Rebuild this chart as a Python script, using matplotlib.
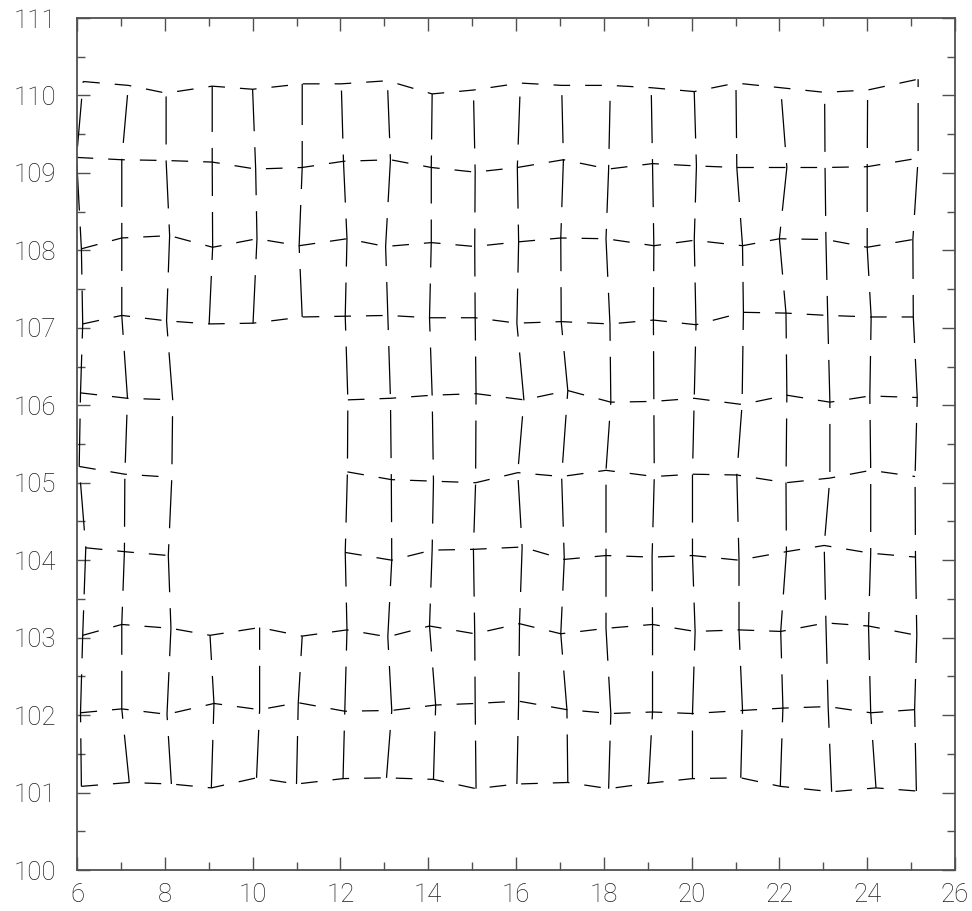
import numpy as np
import matplotlib
matplotlib.use("Agg")
import matplotlib.pyplot as plt
from matplotlib.ticker import MultipleLocator

# Grid rows (nominal y = 101..110), columns nominal x = 6..25; None = missing node
row_101_x = [6.10, 7.19, 8.15, 9.06, 10.09, 11.00, 12.06, 13.05, 14.12, 15.09, 16.02, 17.18, 18.11, 19.02, 20.02, 21.12, 22.02, 23.19, 24.20, 25.12]
row_101_y = [101.08, 101.13, 101.11, 101.06, 101.19, 101.11, 101.18, 101.19, 101.17, 101.05, 101.11, 101.13, 101.05, 101.12, 101.18, 101.19, 101.08, 101.01, 101.06, 101.02]

row_102_x = [6.08, 7.02, 8.05, 9.12, 10.16, 11.04, 12.10, 13.17, 14.17, 15.07, 16.06, 17.16, 18.16, 19.11, 20.02, 21.16, 22.08, 23.11, 24.08, 25.08]
row_102_y = [102.03, 102.08, 102.01, 102.15, 102.07, 102.16, 102.05, 102.06, 102.13, 102.15, 102.18, 102.07, 102.02, 102.04, 102.02, 102.06, 102.09, 102.11, 102.03, 102.07]

row_103_x = [6.13, 7.02, 8.14, 9.03, 10.16, 11.13, 12.15, 13.08, 14.03, 15.06, 16.08, 17.02, 18.05, 19.11, 20.08, 21.08, 22.03, 23.06, 24.03, 25.13]
row_103_y = [103.03, 103.17, 103.12, 103.03, 103.13, 103.02, 103.10, 103.01, 103.15, 103.05, 103.18, 103.05, 103.12, 103.17, 103.08, 103.10, 103.08, 103.19, 103.15, 103.03]

row_104_x = [6.20, 7.08, 8.08, None, None, None, 12.11, 13.17, 14.09, 15.03, 16.14, 17.10, 18.05, 19.10, 20.02, 21.08, 22.16, 23.02, 24.08, 25.10]
row_104_y = [104.16, 104.11, 104.06, None, None, None, 104.10, 104.00, 104.13, 104.14, 104.17, 104.01, 104.06, 104.04, 104.06, 104.00, 104.11, 104.19, 104.09, 104.04]

row_105_x = [6.05, 7.09, 8.16, None, None, None, 12.16, 13.16, 14.12, 15.08, 16.04, 17.04, 18.05, 19.15, 20.02, 21.03, 22.15, 23.15, 24.08, 25.09]
row_105_y = [105.21, 105.11, 105.07, None, None, None, 105.14, 105.04, 105.02, 105.00, 105.13, 105.08, 105.16, 105.08, 105.11, 105.10, 105.00, 105.06, 105.16, 105.08]

row_106_x = [6.08, 7.15, 8.18, None, None, None, 12.17, 13.14, 14.09, 15.09, 16.18, 17.18, 18.16, 19.14, 20.06, 21.15, 22.17, 23.15, 24.06, 25.14]
row_106_y = [106.16, 106.09, 106.07, None, None, None, 106.07, 106.09, 106.13, 106.15, 106.07, 106.19, 106.04, 106.05, 106.09, 106.01, 106.13, 106.04, 106.12, 106.10]

row_107_x = [6.13, 7.02, 8.04, 9.01, 10.01, 11.13, 12.11, 13.08, 14.03, 15.07, 16.02, 17.03, 18.14, 19.13, 20.10, 21.18, 22.15, 23.10, 24.09, 25.05]
row_107_y = [107.05, 107.16, 107.09, 107.05, 107.06, 107.14, 107.15, 107.16, 107.13, 107.13, 107.06, 107.08, 107.05, 107.10, 107.04, 107.20, 107.19, 107.16, 107.14, 107.14]

row_108_x = [6.10, 7.02, 8.11, 9.09, 10.10, 11.06, 12.15, 13.03, 14.07, 15.06, 16.06, 17.02, 18.05, 19.14, 20.06, 21.16, 22.00, 23.06, 24.00, 25.04]
row_108_y = [108.02, 108.16, 108.19, 108.04, 108.15, 108.06, 108.15, 108.05, 108.10, 108.05, 108.11, 108.16, 108.15, 108.06, 108.13, 108.06, 108.15, 108.14, 108.04, 108.14]

row_109_x = [5.99, 7.02, 8.03, 9.08, 10.07, 11.13, 12.07, 13.14, 14.07, 15.07, 16.03, 17.08, 18.11, 19.11, 20.11, 21.03, 22.17, 23.04, 24.00, 25.16]
row_109_y = [109.20, 109.17, 109.16, 109.14, 109.05, 109.07, 109.15, 109.17, 109.07, 109.01, 109.07, 109.17, 109.05, 109.12, 109.09, 109.07, 109.07, 109.07, 109.08, 109.19]

row_110_x = [6.14, 7.17, 8.03, 9.08, 10.00, 11.13, 12.02, 13.07, 14.09, 15.03, 16.10, 17.04, 18.15, 19.08, 20.06, 21.01, 22.03, 23.03, 24.01, 25.16]
row_110_y = [110.18, 110.13, 110.03, 110.12, 110.08, 110.15, 110.15, 110.19, 110.02, 110.07, 110.16, 110.13, 110.13, 110.10, 110.05, 110.16, 110.10, 110.04, 110.07, 110.21]

rows_x = [row_101_x, row_102_x, row_103_x, row_104_x, row_105_x,
          row_106_x, row_107_x, row_108_x, row_109_x, row_110_x]
rows_y = [row_101_y, row_102_y, row_103_y, row_104_y, row_105_y,
          row_106_y, row_107_y, row_108_y, row_109_y, row_110_y]

x_major_ticks = [6, 8, 10, 12, 14, 16, 18, 20, 22, 24, 26]
y_major_ticks = list(range(100, 112))

X = np.array([[np.nan if v is None else v for v in r] for r in rows_x], dtype=float)
Y = np.array([[np.nan if v is None else v for v in r] for r in rows_y], dtype=float)

plt.rcParams['lines.scale_dashes'] = False

fig = plt.figure(figsize=(9.72, 9.11), dpi=100)
ax = fig.add_axes([77 / 972, 41 / 911, 878 / 972, 852 / 911])

LINE_COLOR = 'black'
LW = 0.9
H_DASH = (12.0, 10.8)
V_DASH = (34.6, 11.5)


def segments(xs, ys):
    """Split into contiguous runs of valid nodes."""
    segs = []
    cur_x, cur_y = [], []
    for a, b in zip(xs, ys):
        if np.isnan(a) or np.isnan(b):
            if len(cur_x) > 1:
                segs.append((cur_x, cur_y))
            cur_x, cur_y = [], []
        else:
            cur_x.append(a)
            cur_y.append(b)
    if len(cur_x) > 1:
        segs.append((cur_x, cur_y))
    return segs


# horizontal grid lines, left to right
for i in range(X.shape[0]):
    for sx, sy in segments(X[i], Y[i]):
        ax.plot(sx, sy, color=LINE_COLOR, lw=LW, dashes=H_DASH,
                solid_capstyle='butt', dash_capstyle='butt')

# vertical grid lines, bottom to top
for j in range(X.shape[1]):
    for sx, sy in segments(X[:, j], Y[:, j]):
        ax.plot(sx, sy, color=LINE_COLOR, lw=LW, dashes=V_DASH,
                solid_capstyle='butt', dash_capstyle='butt')

ax.set_xlim(6, 26)
ax.set_ylim(100, 111)
ax.xaxis.set_major_locator(MultipleLocator(2))
ax.xaxis.set_minor_locator(MultipleLocator(1))
ax.yaxis.set_major_locator(MultipleLocator(1))
ax.yaxis.set_minor_locator(MultipleLocator(0.5))
ax.set_xticks(x_major_ticks)
ax.set_yticks(y_major_ticks)

SPINE_COLOR = '#505050'
for s in ax.spines.values():
    s.set_color(SPINE_COLOR)
    s.set_linewidth(1.3)

ax.tick_params(which='both', direction='in', top=True, right=True,
               color=SPINE_COLOR, width=1.0)
ax.tick_params(which='major', length=9.2)
ax.tick_params(which='minor', length=6.0)
ax.tick_params(axis='x', which='major', pad=9)
ax.tick_params(axis='y', which='major', pad=15)

for lab in ax.get_xticklabels() + ax.get_yticklabels():
    lab.set_fontfamily(['Roboto', 'DejaVu Sans'])
    lab.set_fontweight('light')
    lab.set_fontsize(18.5)
    lab.set_color('#1e1e1e')

fig.savefig('out.png', dpi=100, facecolor='white')
